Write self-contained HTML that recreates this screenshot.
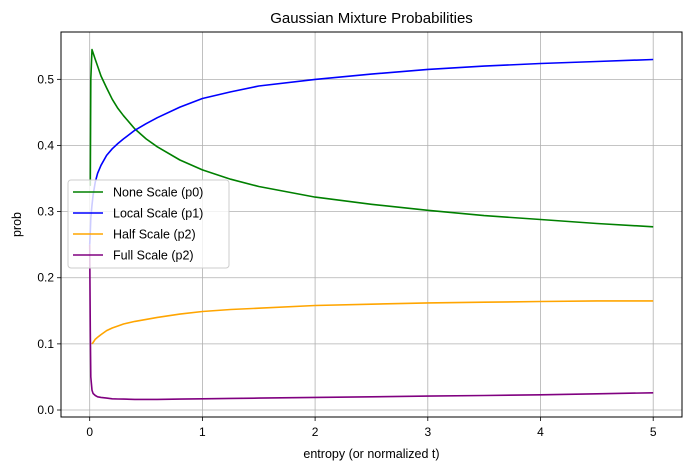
<!DOCTYPE html>
<html><head><meta charset="utf-8"><style>
body{margin:0;background:#fff}
text{font-family:"Liberation Sans","DejaVu Sans",sans-serif;fill:#000}
</style></head><body>
<svg id="c" width="691" height="470" xmlns="http://www.w3.org/2000/svg"></svg>
<script>
const xs=[0,0.005,0.01,0.02,0.03,0.05,0.07,0.1,0.15,0.2,0.25,0.3,0.4,0.5,0.6,0.8,1,1.25,1.5,2,2.5,3,3.5,4,4.5,5];
const p0=[0.34,0.34,0.50,0.545,0.54,0.53,0.52,0.505,0.487,0.47,0.456,0.445,0.425,0.41,0.398,0.378,0.363,0.349,0.338,0.322,0.311,0.302,0.294,0.288,0.282,0.277];
const p1=[0.25,0.27,0.29,0.31,0.325,0.345,0.358,0.37,0.385,0.395,0.403,0.41,0.423,0.433,0.442,0.458,0.471,0.481,0.49,0.5,0.508,0.515,0.52,0.524,0.527,0.53];
const p2h=[null,null,null,0.1,0.102,0.107,0.11,0.114,0.12,0.124,0.127,0.13,0.134,0.137,0.14,0.145,0.149,0.152,0.154,0.158,0.16,0.162,0.163,0.164,0.165,0.165];
const p2f=[0.25,0.12,0.05,0.03,0.025,0.022,0.02,0.019,0.018,0.017,0.0167,0.0165,0.016,0.016,0.016,0.0165,0.017,0.0175,0.018,0.019,0.02,0.021,0.022,0.023,0.0245,0.026];
const xTicks=[0,1,2,3,4,5];
const yTicks=[0,0.1,0.2,0.3,0.4,0.5];
const seriesNames=["None Scale (p0)","Local Scale (p1)","Half Scale (p2)","Full Scale (p2)"];
const seriesColors=["green","blue","orange","purple"];
const seriesData=[p0,p1,p2h,p2f];

const L=61,R=682,T=32,B=417;
const X=v=>89.7+v*112.7;
const Y=v=>410-v*661.3;
const svg=document.getElementById('c');
const NS="http://www.w3.org/2000/svg";
function mk(tag,attrs,parent){const e=document.createElementNS(NS,tag);for(const k in attrs)e.setAttribute(k,attrs[k]);(parent||svg).appendChild(e);return e;}

xTicks.forEach(t=>{
  const g=mk('line',{x1:X(t),x2:X(t),y1:T,y2:B,stroke:'#b0b0b0','stroke-width':0.8});
  
  
  mk('line',{x1:X(t),x2:X(t),y1:B,y2:B+4,stroke:'#000','stroke-width':0.8});
  const tx=mk('text',{x:X(t),y:B+19,'text-anchor':'middle','font-size':12});
  tx.textContent=t;
  
  
});
yTicks.forEach(t=>{
  const g=mk('line',{x1:L,x2:R,y1:Y(t),y2:Y(t),stroke:'#b0b0b0','stroke-width':0.8});
  
  
  mk('line',{x1:L-4,x2:L,y1:Y(t),y2:Y(t),stroke:'#000','stroke-width':0.8});
  const tx=mk('text',{x:L-7,y:Y(t)+4,'text-anchor':'end','font-size':12});
  tx.textContent=t.toFixed(1);
  
  
});

seriesData.forEach((d,i)=>{
  const pts=[];
  d.forEach((v,j)=>{if(v!==null)pts.push(X(xs[j]).toFixed(1)+','+Y(v).toFixed(1));});
  const pl=mk('polyline',{points:pts.join(' '),fill:'none',stroke:seriesColors[i],'stroke-width':1.6,'stroke-linejoin':'round'});
  
  
});

const frame=mk('rect',{x:L,y:T,width:R-L,height:B-T,fill:'none',stroke:'#000','stroke-width':1});



const lg=mk('g',{});


mk('rect',{x:68,y:180,width:161,height:88,rx:3,fill:'#fff','fill-opacity':0.8,stroke:'#ccc'},lg);
seriesNames.forEach((n,i)=>{
  const y=192+i*21;
  mk('line',{x1:73,x2:103,y1:y,y2:y,stroke:seriesColors[i],'stroke-width':1.6},lg);
  const tx=mk('text',{x:113,y:y+4.5,'font-size':12.5},lg);
  tx.textContent=n;
  
  
});

const title=mk('text',{x:(L+R)/2,y:23,'text-anchor':'middle','font-size':15});
title.textContent='Gaussian Mixture Probabilities';


const xl=mk('text',{x:(L+R)/2,y:458,'text-anchor':'middle','font-size':12.5});
xl.textContent='entropy (or normalized t)';


const yl=mk('text',{x:21,y:(T+B)/2,'text-anchor':'middle','font-size':12.5,transform:'rotate(-90 21 '+(T+B)/2+')'});
yl.textContent='prob';


</script>
</body></html>
